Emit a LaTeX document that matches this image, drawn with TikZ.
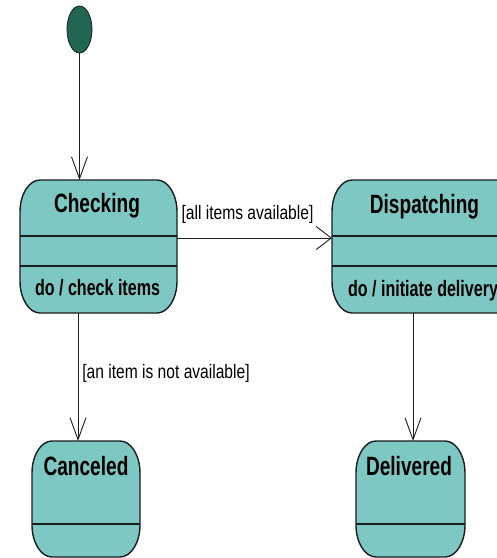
\documentclass[tikz,border=0pt]{standalone}
\usepackage{fontspec}
\usetikzlibrary{arrows.meta,shapes.geometric}
\newfontfamily\statefont{Liberation Sans Bold}[FakeStretch=0.72]
\newfontfamily\guardfont{Liberation Sans}[FakeStretch=0.8]

\definecolor{statefill}{RGB}{126,200,196}
\definecolor{initgreen}{RGB}{32,102,82}
\definecolor{edgeink}{RGB}{25,30,30}

% corner radii of the state outlines
\newcommand\stcrx{20pt}
\newcommand\stcry{32pt}

% rounded outline around an (empty) state node
\newcommand\stateoutline[1]{%
  \filldraw[stateedge]
    ([yshift=-\stcry]#1.north west)
      arc[start angle=180,end angle=90,x radius=\stcrx,y radius=\stcry]
    -- ([xshift=-\stcrx]#1.north east)
      arc[start angle=90,end angle=0,x radius=\stcrx,y radius=\stcry]
    -- ([yshift=\stcry]#1.south east)
      arc[start angle=0,end angle=-90,x radius=\stcrx,y radius=\stcry]
    -- ([xshift=\stcrx]#1.south west)
      arc[start angle=270,end angle=180,x radius=\stcrx,y radius=\stcry]
    -- cycle;}

\tikzset{
  statebox/.style={rectangle, draw=none, inner sep=0pt, outer sep=0pt},
  stateedge/.style={draw=edgeink, fill=statefill, line width=1.4pt},
  divider/.style={draw=edgeink, line width=1.4pt},
  title/.style={font=\statefont\fontsize{26.5}{30}\selectfont, inner sep=0pt, anchor=base},
  activity/.style={font=\statefont\fontsize{22.3}{26}\selectfont, inner sep=0pt, anchor=base},
  guard/.style={font=\guardfont\fontsize{19.5}{23}\selectfont, inner sep=0pt, anchor=base},
  trans/.style={draw=edgeink, line width=0.9pt},
  vtip/.style={-{Straight Barb[length=22pt,width=16pt,line width=0.9pt]}},
  htip/.style={-{Straight Barb[length=15pt,width=23pt,line width=0.9pt]}},
}

\begin{document}
\begin{tikzpicture}[x=1pt,y=1pt]
\useasboundingbox (0,0) rectangle (497,-558);
\clip (0,0) rectangle (497,-558);
\fill[white] (0,0) rectangle (497,-558);

% initial pseudo-state
\node[ellipse, draw=edgeink, line width=0.8pt, fill=initgreen, inner sep=0pt,
      minimum width=25pt, minimum height=47pt] (init) at (79.5,-29.5) {};

% state frames
\node[statebox, minimum width=157pt, minimum height=133pt] (checking) at (98.5,-246.5) {};
\node[statebox, minimum width=185pt, minimum height=133pt] (dispatching) at (424.5,-246.5) {};
\node[statebox, minimum width=108pt, minimum height=116pt] (canceled) at (86,-499) {};
\node[statebox, minimum width=109pt, minimum height=116pt] (delivered) at (410.5,-499) {};

\stateoutline{checking}
\stateoutline{dispatching}
\stateoutline{canceled}
\stateoutline{delivered}

% compartment lines
\foreach \s in {checking,dispatching}{
  \draw[divider] ([yshift=-56pt]\s.north west) -- ([yshift=-56pt]\s.north east);
  \draw[divider] ([yshift=-86pt]\s.north west) -- ([yshift=-86pt]\s.north east);
}
\foreach \s in {canceled,delivered}{
  \draw[divider] ([yshift=-83pt]\s.north west) -- ([yshift=-83pt]\s.north east);
}

% state names and activities
\node[title] (checkingname) at (97,-212) {Checking};
\node[activity] (checkingdo) at (97.5,-295) {do / check items};
\node[title] (dispatchingname) at (424.5,-213) {Dispatching};
\node[activity] (dispatchingdo) at (423,-296) {do / initiate delivery};
\node[title] (canceledname) at (86,-475) {Canceled};
\node[title] (deliveredname) at (409,-475) {Delivered};

% transitions
\coordinate (hline) at (0,-238);
\coordinate (leftdrop) at (78,0);
\coordinate (rightdrop) at (413,0);

\draw[trans, vtip] (init.south) -- (init.south |- checking.north);
\draw[trans, htip] (checking.east |- hline) -- (dispatching.west |- hline);
\draw[trans, vtip] (leftdrop |- checking.south) -- (leftdrop |- canceled.north);
\draw[trans, vtip] (rightdrop |- dispatching.south) -- (rightdrop |- delivered.north);

% guards
\node[guard] (allavail) at (247.5,-219) {[all items available]};
\node[guard] (notavail) at (166,-378) {[an item is not available]};
\end{tikzpicture}
\end{document}
